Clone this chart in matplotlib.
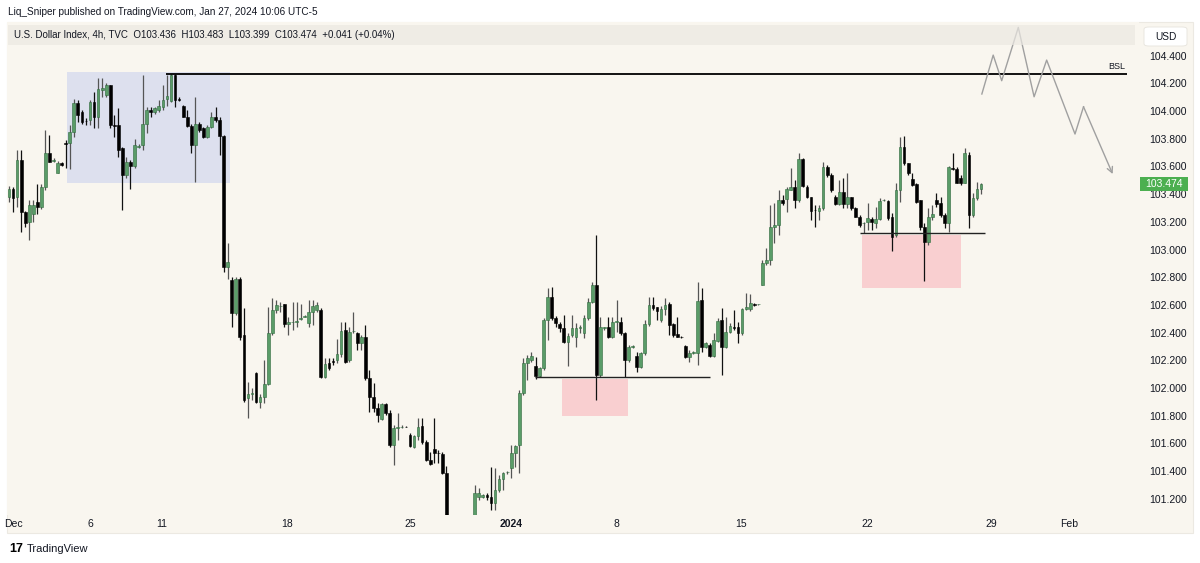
import matplotlib
matplotlib.use("Agg")
import matplotlib.pyplot as plt
import matplotlib.transforms as mtransforms
from matplotlib.patches import Rectangle, FancyBboxPatch
import numpy as np

plt.rcParams['font.family'] = ['Liberation Sans', 'DejaVu Sans']

# ---------------- DATA (4h candles, O, H, L, C) ----------------
seg_dec_early = [
    (103.38, 103.46, 103.34, 103.44), (103.44, 103.45, 103.27, 103.37), (103.38, 103.72, 103.31, 103.65),
    (103.65, 103.72, 103.13, 103.27), (103.27, 103.28, 103.16, 103.19), (103.20, 103.36, 103.07, 103.32),
    (103.26, 103.36, 103.20, 103.32), (103.34, 103.47, 103.26, 103.31), (103.31, 103.47, 103.29, 103.45),
    (103.45, 103.86, 103.43, 103.70), (103.70, 103.83, 103.63, 103.63), (103.64, 103.66, 103.63, 103.65),
    (103.55, 103.64, 103.55, 103.625), (103.625, 103.63, 103.60, 103.61), (103.77, 103.79, 103.59, 103.76),
    (103.77, 103.90, 103.58, 103.85), (103.85, 104.09, 103.81, 104.06), (104.06, 104.08, 103.92, 103.97),
    (103.99, 104.01, 103.91, 103.92), (103.93, 103.95, 103.90, 103.925), (103.935, 104.08, 103.90, 104.065),
    (104.065, 104.14, 103.88, 103.957), (103.957, 104.24, 103.88, 104.16), (104.152, 104.24, 104.10, 104.166),
    (104.116, 104.20, 104.10, 104.188), (104.188, 104.19, 103.88, 103.90), (103.90, 103.97, 103.81, 103.895),
    (103.90, 104.02, 103.67, 103.72), (103.73, 103.74, 103.285, 103.54), (103.54, 103.67, 103.52, 103.63),
    (103.63, 103.65, 103.44, 103.60), (103.60, 103.80, 103.59, 103.755), (103.74, 103.76, 103.73, 103.75),
    (103.755, 104.26, 103.72, 103.91), (103.91, 104.03, 103.84, 104.01), (104.01, 104.03, 103.96, 103.99),
    (103.99, 104.03, 103.98, 104.02), (104.01, 104.08, 103.99, 104.035), (104.03, 104.19, 104.01, 104.08),
    (104.09, 104.26, 104.04, 104.11), (104.07, 104.27, 104.065, 104.26), (104.26, 104.27, 104.03, 104.08),
    (104.085, 104.10, 104.075, 104.08), (104.04, 104.045, 103.955, 103.96), (103.96, 104.01, 103.885, 103.89),
    (103.89, 103.91, 103.70, 103.755), (103.755, 104.10, 103.49, 103.91), (103.91, 103.92, 103.85, 103.86),
    (103.88, 103.885, 103.805, 103.81), (103.81, 103.90, 103.805, 103.885), (103.885, 103.99, 103.88, 103.957),
    (103.957, 104.03, 103.92, 103.935), (103.935, 103.957, 103.68, 103.82), (103.82, 103.83, 102.84, 102.874),
]
seg_dec_late = [
    (102.874, 103.05, 102.79, 102.91), (102.78, 102.80, 102.44, 102.54), (102.54, 102.80, 102.53, 102.79),
    (102.79, 102.80, 102.35, 102.37), (102.38, 102.58, 101.90, 101.91), (101.93, 102.04, 101.78, 101.96),
    (101.96, 102.00, 101.91, 101.965), (102.11, 102.115, 101.895, 101.90), (101.90, 101.96, 101.855, 101.935),
    (101.935, 102.20, 101.89, 102.03), (102.03, 102.585, 102.02, 102.40), (102.40, 102.65, 102.38, 102.56),
    (102.56, 102.635, 102.54, 102.60), (102.59, 102.62, 102.55, 102.595), (102.606, 102.61, 102.44, 102.462),
    (102.462, 102.51, 102.38, 102.476), (102.476, 102.62, 102.42, 102.48), (102.48, 102.62, 102.44, 102.485),
    (102.50, 102.61, 102.49, 102.505), (102.515, 102.53, 102.51, 102.52), (102.469, 102.635, 102.44, 102.549),
    (102.55, 102.635, 102.455, 102.59), (102.563, 102.62, 102.55, 102.60), (102.563, 102.58, 102.075, 102.08),
    (102.08, 102.22, 102.07, 102.17), (102.18, 102.22, 102.13, 102.145), (102.19, 102.22, 102.166, 102.188),
    (102.202, 102.355, 102.18, 102.246), (102.246, 102.476, 102.224, 102.41), (102.42, 102.476, 102.18, 102.19),
    (102.202, 102.44, 102.19, 102.404), (102.41, 102.549, 102.397, 102.412), (102.40, 102.404, 102.274, 102.325),
    (102.325, 102.383, 102.274, 102.368), (102.368, 102.455, 102.058, 102.07), (102.07, 102.13, 101.83, 101.935),
    (101.935, 102.036, 101.83, 101.855), (101.855, 101.895, 101.755, 101.805), (101.776, 101.895, 101.769, 101.884),
    (101.884, 101.895, 101.805, 101.82), (101.82, 101.841, 101.574, 101.588), (101.588, 101.733, 101.444, 101.711),
    (101.711, 101.82, 101.625, 101.715), (101.718, 101.73, 101.71, 101.72), (101.72, 101.725, 101.715, 101.718),
    (101.661, 101.675, 101.574, 101.581), (101.574, 101.661, 101.567, 101.654), (101.654, 101.783, 101.625, 101.718),
    (101.726, 101.783, 101.596, 101.61), (101.61, 101.625, 101.473, 101.48), (101.48, 101.538, 101.444, 101.451),
    (101.56, 101.783, 101.458, 101.53), (101.53, 101.552, 101.458, 101.528), (101.523, 101.538, 101.38, 101.386),
    (101.386, 101.44, 100.98, 101.04), (101.04, 101.05, 100.86, 100.92), (100.92, 100.98, 100.70, 100.76),
    (100.76, 100.90, 100.62, 100.84), (100.84, 101.00, 100.80, 100.95), (100.95, 101.04, 100.85, 100.90),
    (100.90, 101.02, 100.86, 101.00),
]
seg_jan_early = [
    (101.00, 101.30, 100.98, 101.242), (101.213, 101.28, 101.19, 101.242), (101.213, 101.235, 101.205, 101.227),
    (101.227, 101.242, 101.19, 101.213), (101.213, 101.43, 101.12, 101.17), (101.17, 101.422, 101.12, 101.264),
    (101.264, 101.372, 101.25, 101.343), (101.343, 101.394, 101.264, 101.386), (101.39, 101.40, 101.38, 101.394),
    (101.422, 101.588, 101.35, 101.53), (101.53, 101.588, 101.43, 101.581), (101.588, 101.986, 101.386, 101.964),
    (101.964, 102.217, 101.95, 102.18), (102.18, 102.238, 102.058, 102.217), (102.202, 102.26, 102.188, 102.23),
    (102.159, 102.224, 102.065, 102.087), (102.087, 102.15, 102.08, 102.144), (102.144, 102.505, 102.13, 102.491),
    (102.491, 102.722, 102.347, 102.657), (102.657, 102.73, 102.491, 102.505), (102.505, 102.52, 102.44, 102.469),
    (102.462, 102.476, 102.404, 102.433), (102.433, 102.527, 102.325, 102.332), (102.332, 102.397, 102.159, 102.375),
    (102.383, 102.527, 102.368, 102.433), (102.368, 102.469, 102.296, 102.433), (102.433, 102.455, 102.397, 102.437),
    (102.397, 102.527, 102.36, 102.505), (102.505, 102.65, 102.49, 102.62), (102.62, 102.765, 102.613, 102.744),
    (102.744, 103.105, 101.913, 102.094), (102.094, 102.513, 102.08, 102.44), (102.433, 102.44, 102.42, 102.437),
    (102.44, 102.513, 102.36, 102.368), (102.368, 102.513, 102.36, 102.476), (102.48, 102.635, 102.404, 102.484),
    (102.476, 102.513, 102.383, 102.397), (102.397, 102.404, 102.08, 102.202), (102.202, 102.31, 102.188, 102.296),
    (102.296, 102.31, 102.29, 102.30), (102.231, 102.26, 102.116, 102.152), (102.152, 102.26, 102.144, 102.253),
    (102.253, 102.491, 102.238, 102.462), (102.462, 102.657, 102.448, 102.599), (102.599, 102.657, 102.563, 102.578),
    (102.585, 102.585, 102.491, 102.556), (102.491, 102.592, 102.476, 102.57), (102.57, 102.65, 102.527, 102.599),
    (102.606, 102.62, 102.383, 102.455), (102.462, 102.469, 102.368, 102.383), (102.39, 102.513, 102.365, 102.368),
    (102.368, 102.375, 102.36, 102.365), (102.303, 102.31, 102.217, 102.224), (102.224, 102.274, 102.188, 102.253),
    (102.253, 102.27, 102.245, 102.256), (102.253, 102.765, 102.166, 102.628), (102.635, 102.722, 102.26, 102.296),
    (102.296, 102.33, 102.29, 102.325), (102.31, 102.325, 102.224, 102.231), (102.231, 102.397, 102.224, 102.347),
    (102.34, 102.505, 102.332, 102.484), (102.491, 102.578, 102.094, 102.296), (102.296, 102.513, 102.289, 102.404),
    (102.404, 102.469, 102.397, 102.448), (102.44, 102.563, 102.419, 102.433), (102.44, 102.476, 102.325, 102.397),
    (102.397, 102.578, 102.383, 102.57), (102.57, 102.686, 102.563, 102.585), (102.57, 102.678, 102.556, 102.613),
    (102.606, 102.613, 102.592, 102.599), (102.604, 102.61, 102.60, 102.608),
]
seg_jan_late = [
    (102.744, 102.924, 102.744, 102.903), (102.903, 103.01, 102.888, 102.924), (102.924, 103.321, 102.888, 103.162),
    (103.162, 103.336, 103.047, 103.177), (103.177, 103.43, 103.105, 103.357), (103.357, 103.394, 103.321, 103.336),
    (103.365, 103.451, 103.271, 103.437), (103.43, 103.588, 103.43, 103.451), (103.451, 103.502, 103.30, 103.357),
    (103.357, 103.697, 103.343, 103.653), (103.653, 103.66, 103.451, 103.458), (103.451, 103.466, 103.372, 103.379),
    (103.379, 103.379, 103.213, 103.278), (103.285, 103.321, 103.162, 103.282), (103.278, 103.321, 103.213, 103.30),
    (103.30, 103.632, 103.285, 103.596), (103.596, 103.61, 103.523, 103.538), (103.538, 103.552, 103.415, 103.43),
    (103.379, 103.394, 103.321, 103.329), (103.329, 103.502, 103.321, 103.415), (103.415, 103.516, 103.30, 103.329),
    (103.329, 103.552, 103.30, 103.379), (103.379, 103.379, 103.285, 103.30), (103.30, 103.307, 103.235, 103.235),
    (103.235, 103.249, 103.162, 103.177), (103.19, 103.198, 103.12, 103.191), (103.198, 103.336, 103.141, 103.227),
    (103.22, 103.235, 103.141, 103.198), (103.191, 103.307, 103.155, 103.22), (103.22, 103.372, 103.213, 103.35),
    (103.357, 103.365, 103.35, 103.357), (103.35, 103.357, 103.213, 103.227), (103.235, 103.264, 102.99, 103.09),
    (103.105, 103.48, 103.09, 103.43), (103.43, 103.81, 103.343, 103.74), (103.74, 103.82, 103.61, 103.625),
    (103.625, 103.625, 103.538, 103.552), (103.509, 103.552, 103.458, 103.466), (103.473, 103.48, 103.336, 103.343),
    (103.357, 103.357, 103.141, 103.162), (103.162, 103.191, 102.773, 103.054), (103.054, 103.30, 103.032, 103.235),
    (103.235, 103.321, 103.213, 103.256), (103.357, 103.408, 103.307, 103.329), (103.336, 103.379, 103.235, 103.249),
    (103.249, 103.264, 103.155, 103.191), (103.191, 103.60, 103.126, 103.596), (103.589, 103.697, 103.574, 103.585),
    (103.581, 103.596, 103.48, 103.48), (103.516, 103.538, 103.466, 103.48), (103.48, 103.733, 103.48, 103.697),
    (103.682, 103.704, 103.155, 103.249), (103.249, 103.408, 103.235, 103.372), (103.372, 103.487, 103.357, 103.437),
    (103.436, 103.483, 103.399, 103.474),
]

time_ticks = [1.2, 20.0, 37.8, 68.6, 99.0, 124.0, 149.9, 180.7, 211.9, 242.5, 261.7]
time_labels = ['Dec', '6', '11', '18', '25', '2024', '8', '15', '22', '29', 'Feb']
price_ticks = [101.2, 101.4, 101.6, 101.8, 102.0, 102.2, 102.4, 102.6, 102.8,
               103.0, 103.2, 103.4, 103.6, 103.8, 104.0, 104.2, 104.4]
last_price = 103.474

# drawings (bar index, price)
bsl_level = 104.265
bsl_span = (38.8, 276.0)
range_box = (14.3, 54.6, 103.482, 104.284)
low_line = (129.9, 173.1, 102.079)
low_box = (136.5, 152.8, 101.798, 102.065)
high_line = (210.1, 241.0, 103.119)
high_box = (210.6, 235.1, 102.722, 103.105)
path_x = [240.2, 243.0, 245.1, 249.2, 253.1, 256.2, 263.2, 265.3, 272.5]
path_y = [104.123, 104.404, 104.219, 104.604, 104.103, 104.368, 103.834, 104.031, 103.545]

# ---------------- FIGURE ----------------
W, H = 1200, 563
cream = '#f9f6ef'
green = '#5a9c68'
green_edge = '#2f6a3d'
txt = '#131722'

fig = plt.figure(figsize=(W / 100, H / 100), dpi=100)
fig.patch.set_facecolor('white')

def fx(px):
    return px / W

def fy(py):
    return 1 - py / H

fig.add_artist(Rectangle((fx(7), fy(533)), fx(1193) - fx(7), fy(22) - fy(533),
                         transform=fig.transFigure, facecolor=cream, edgecolor='#ece9e2',
                         linewidth=0.8, zorder=-5))

ax = fig.add_axes([fx(7), fy(515), fx(1139) - fx(7), fy(22) - fy(515)])
ax.set_facecolor(cream)
for s in ax.spines.values():
    s.set_visible(False)

candles = seg_dec_early + seg_dec_late + seg_jan_early + seg_jan_late
o = np.array([c[0] for c in candles])
hh = np.array([c[1] for c in candles])
ll = np.array([c[2] for c in candles])
cc = np.array([c[3] for c in candles])
idx = np.arange(len(candles))
up = cc >= o

ax.set_xlim(-0.49, 279.0)
ax.set_ylim(101.083, 104.643)

# boxes
x0, x1, y0, y1 = range_box
ax.add_patch(Rectangle((x0, y0), x1 - x0, y1 - y0, facecolor='#dde0ee', edgecolor='none', zorder=1))
x0, x1, y0, y1 = low_box
ax.add_patch(Rectangle((x0, y0), x1 - x0, y1 - y0, facecolor='#f9cfd0', edgecolor='none', zorder=1))
x0, x1, y0, y1 = high_box
ax.add_patch(Rectangle((x0, y0), x1 - x0, y1 - y0, facecolor='#f9cfd0', edgecolor='none', zorder=1))

# candles
ax.vlines(idx, ll, hh, colors=np.where(up, '#555555', '#111111'), linewidth=0.9, zorder=3)
lo_b = np.minimum(o, cc)
hi_b = np.maximum(o, cc)
ax.bar(idx, np.maximum(hi_b - lo_b, 0.004), bottom=lo_b, width=0.68,
       color=np.where(up, green, '#000000'), edgecolor=np.where(up, green_edge, '#000000'),
       linewidth=0.4, zorder=4)

# lines
ax.hlines(bsl_level, bsl_span[0], bsl_span[1], color='black', linewidth=1.3, zorder=5)
ax.text(bsl_span[1] - 0.5, bsl_level + 0.025, 'BSL', fontsize=6.5, ha='right', va='bottom', color=txt, zorder=6)
ax.hlines(low_line[2], low_line[0], low_line[1], color='#222222', linewidth=1.0, zorder=5)
ax.hlines(high_line[2], high_line[0], high_line[1], color='#222222', linewidth=1.0, zorder=5)

# projected path
ax.plot(path_x[:-1], path_y[:-1], color='#a0a0a0', linewidth=1.0, zorder=5, clip_on=False)
ax.annotate('', xy=(path_x[-1], path_y[-1]), xytext=(path_x[-2], path_y[-2]),
            arrowprops=dict(arrowstyle='->', color='#a0a0a0', lw=1.0, shrinkA=0, shrinkB=0,
                            mutation_scale=10), zorder=5)

# axes ticks
ax.yaxis.tick_right()
ax.set_yticks(price_ticks)
ax.set_yticklabels([f'{p:.3f}' for p in price_ticks])
ax.tick_params(axis='y', length=0, pad=7, labelsize=7.5, labelcolor=txt)
ax.set_xticks(time_ticks)
ax.set_xticklabels(time_labels)
ax.tick_params(axis='x', length=0, pad=3, labelsize=7.5, labelcolor=txt)
for lab in ax.get_xticklabels():
    if lab.get_text() == '2024':
        lab.set_fontweight('bold')

# last price label
blend = mtransforms.blended_transform_factory(ax.transAxes, ax.transData)
ax.add_patch(Rectangle((1 + 1.0 / 1132, last_price - 0.05), 48.0 / 1132, 0.1, transform=blend,
                       facecolor='#4caf50', edgecolor='none', clip_on=False, zorder=8))
ax.text(1 + 25.0 / 1132, last_price, f'{last_price:.3f}', transform=blend, ha='center', va='center',
        color='white', fontsize=7.5, zorder=9, clip_on=False)

# header bar
fig.add_artist(Rectangle((fx(8), fy(45)), fx(1135) - fx(8), fy(25) - fy(45), transform=fig.transFigure,
                         facecolor='#ebe8e2', edgecolor='none', alpha=0.7, zorder=2))
fig.text(fx(14), fy(35.5), 'U.S. Dollar Index, 4h, TVC  O103.436  H103.483  L103.399  C103.474  +0.041 (+0.04%)',
         fontsize=7.0, va='center', ha='left', color=txt, zorder=3)
fig.text(fx(8), fy(12), 'Liq_Sniper published on TradingView.com, Jan 27, 2024 10:06 UTC-5',
         fontsize=7.2, va='center', ha='left', color=txt)

# USD box
fig.add_artist(FancyBboxPatch((fx(1144), fy(46)), fx(1187) - fx(1144), fy(27) - fy(46),
                              boxstyle='round,pad=0,rounding_size=0.004', transform=fig.transFigure,
                              facecolor='white', edgecolor='#e6e3dc', linewidth=0.6, zorder=2))
fig.text(fx(1165.5), fy(36.5), 'USD', fontsize=7.3, ha='center', va='center', color=txt, zorder=3)

# footer logo
fig.text(fx(9), fy(549), '17', fontsize=9, fontweight='bold', ha='left', va='center', color='black')
fig.text(fx(27), fy(549), 'TradingView', fontsize=8, ha='left', va='center', color=txt)

fig.savefig('out.png', dpi=100, facecolor=fig.get_facecolor())
